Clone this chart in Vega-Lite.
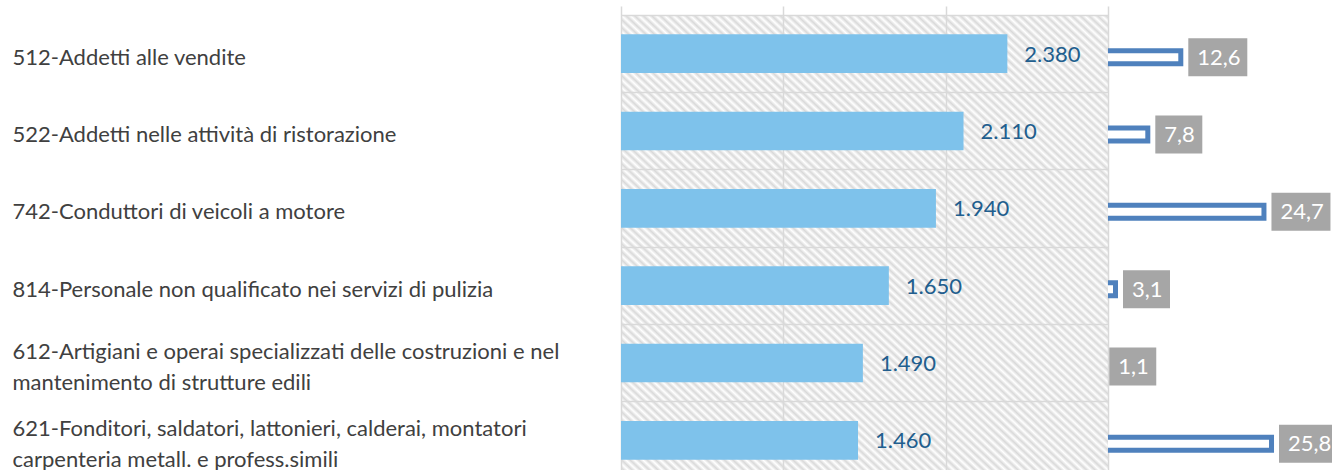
{
  "$schema": "https://vega.github.io/schema/vega-lite/v6.json",
  "padding": {"left": 12, "top": 15, "right": 0, "bottom": 0},
  "background": "white",
  "spacing": 0,
  "config": {
    "font": "Lato",
    "view": {"stroke": null},
    "locale": {"number": {"decimal": ",", "thousands": ".", "grouping": [3], "currency": ["€", ""]}},
    "axis": {"domain": false, "ticks": false, "tickSize": 0, "title": null}
  },
  "datasets": {
    "dati": [
      {"professione": "512-Addetti alle vendite", "occupati": 2380, "variazione": 12.6},
      {"professione": "522-Addetti nelle attività di ristorazione", "occupati": 2110, "variazione": 7.8},
      {"professione": "742-Conduttori di veicoli a motore", "occupati": 1940, "variazione": 24.7},
      {"professione": "814-Personale non qualificato nei servizi di pulizia", "occupati": 1650, "variazione": 3.1},
      {"professione": "612-Artigiani e operai specializzati delle costruzioni e nel\nmantenimento di strutture edili", "occupati": 1490, "variazione": 1.1},
      {"professione": "621-Fonditori, saldatori, lattonieri, calderai, montatori\ncarpenteria metall. e profess.simili", "occupati": 1460, "variazione": 25.8}
    ]
  },
  "data": {"name": "dati"},
  "hconcat": [
    {
      "width": 487,
      "height": 455,
      "view": {
        "stroke": null,
        "fill": {
          "gradient": "linear", "x1": 0, "y1": 1.1, "x2": 1.1, "y2": 0,
          "stops": [
            {"offset": 0.04, "color": "#d9d9d9"}, {"offset": 0.044, "color": "#ffffff"}, {"offset": 0.048, "color": "#d9d9d9"}, {"offset": 0.052, "color": "#ffffff"}, {"offset": 0.056, "color": "#d9d9d9"}, {"offset": 0.06, "color": "#ffffff"}, {"offset": 0.064, "color": "#d9d9d9"}, {"offset": 0.068, "color": "#ffffff"}, {"offset": 0.072, "color": "#d9d9d9"}, {"offset": 0.076, "color": "#ffffff"},
            {"offset": 0.08, "color": "#d9d9d9"}, {"offset": 0.084, "color": "#ffffff"}, {"offset": 0.088, "color": "#d9d9d9"}, {"offset": 0.092, "color": "#ffffff"}, {"offset": 0.096, "color": "#d9d9d9"}, {"offset": 0.1, "color": "#ffffff"}, {"offset": 0.104, "color": "#d9d9d9"}, {"offset": 0.108, "color": "#ffffff"}, {"offset": 0.112, "color": "#d9d9d9"}, {"offset": 0.116, "color": "#ffffff"},
            {"offset": 0.12, "color": "#d9d9d9"}, {"offset": 0.124, "color": "#ffffff"}, {"offset": 0.128, "color": "#d9d9d9"}, {"offset": 0.132, "color": "#ffffff"}, {"offset": 0.136, "color": "#d9d9d9"}, {"offset": 0.14, "color": "#ffffff"}, {"offset": 0.144, "color": "#d9d9d9"}, {"offset": 0.148, "color": "#ffffff"}, {"offset": 0.152, "color": "#d9d9d9"}, {"offset": 0.156, "color": "#ffffff"},
            {"offset": 0.16, "color": "#d9d9d9"}, {"offset": 0.164, "color": "#ffffff"}, {"offset": 0.168, "color": "#d9d9d9"}, {"offset": 0.172, "color": "#ffffff"}, {"offset": 0.176, "color": "#d9d9d9"}, {"offset": 0.18, "color": "#ffffff"}, {"offset": 0.184, "color": "#d9d9d9"}, {"offset": 0.188, "color": "#ffffff"}, {"offset": 0.192, "color": "#d9d9d9"}, {"offset": 0.196, "color": "#ffffff"},
            {"offset": 0.2, "color": "#d9d9d9"}, {"offset": 0.204, "color": "#ffffff"}, {"offset": 0.208, "color": "#d9d9d9"}, {"offset": 0.212, "color": "#ffffff"}, {"offset": 0.216, "color": "#d9d9d9"}, {"offset": 0.22, "color": "#ffffff"}, {"offset": 0.224, "color": "#d9d9d9"}, {"offset": 0.228, "color": "#ffffff"}, {"offset": 0.232, "color": "#d9d9d9"}, {"offset": 0.236, "color": "#ffffff"},
            {"offset": 0.24, "color": "#d9d9d9"}, {"offset": 0.244, "color": "#ffffff"}, {"offset": 0.248, "color": "#d9d9d9"}, {"offset": 0.252, "color": "#ffffff"}, {"offset": 0.256, "color": "#d9d9d9"}, {"offset": 0.26, "color": "#ffffff"}, {"offset": 0.264, "color": "#d9d9d9"}, {"offset": 0.268, "color": "#ffffff"}, {"offset": 0.272, "color": "#d9d9d9"}, {"offset": 0.276, "color": "#ffffff"},
            {"offset": 0.28, "color": "#d9d9d9"}, {"offset": 0.284, "color": "#ffffff"}, {"offset": 0.288, "color": "#d9d9d9"}, {"offset": 0.292, "color": "#ffffff"}, {"offset": 0.296, "color": "#d9d9d9"}, {"offset": 0.3, "color": "#ffffff"}, {"offset": 0.304, "color": "#d9d9d9"}, {"offset": 0.308, "color": "#ffffff"}, {"offset": 0.312, "color": "#d9d9d9"}, {"offset": 0.316, "color": "#ffffff"},
            {"offset": 0.32, "color": "#d9d9d9"}, {"offset": 0.324, "color": "#ffffff"}, {"offset": 0.328, "color": "#d9d9d9"}, {"offset": 0.332, "color": "#ffffff"}, {"offset": 0.336, "color": "#d9d9d9"}, {"offset": 0.34, "color": "#ffffff"}, {"offset": 0.344, "color": "#d9d9d9"}, {"offset": 0.348, "color": "#ffffff"}, {"offset": 0.352, "color": "#d9d9d9"}, {"offset": 0.356, "color": "#ffffff"},
            {"offset": 0.36, "color": "#d9d9d9"}, {"offset": 0.364, "color": "#ffffff"}, {"offset": 0.368, "color": "#d9d9d9"}, {"offset": 0.372, "color": "#ffffff"}, {"offset": 0.376, "color": "#d9d9d9"}, {"offset": 0.38, "color": "#ffffff"}, {"offset": 0.384, "color": "#d9d9d9"}, {"offset": 0.388, "color": "#ffffff"}, {"offset": 0.392, "color": "#d9d9d9"}, {"offset": 0.396, "color": "#ffffff"},
            {"offset": 0.4, "color": "#d9d9d9"}, {"offset": 0.404, "color": "#ffffff"}, {"offset": 0.408, "color": "#d9d9d9"}, {"offset": 0.412, "color": "#ffffff"}, {"offset": 0.416, "color": "#d9d9d9"}, {"offset": 0.42, "color": "#ffffff"}, {"offset": 0.424, "color": "#d9d9d9"}, {"offset": 0.428, "color": "#ffffff"}, {"offset": 0.432, "color": "#d9d9d9"}, {"offset": 0.436, "color": "#ffffff"},
            {"offset": 0.44, "color": "#d9d9d9"}, {"offset": 0.444, "color": "#ffffff"}, {"offset": 0.448, "color": "#d9d9d9"}, {"offset": 0.452, "color": "#ffffff"}, {"offset": 0.456, "color": "#d9d9d9"}, {"offset": 0.46, "color": "#ffffff"}, {"offset": 0.464, "color": "#d9d9d9"}, {"offset": 0.468, "color": "#ffffff"}, {"offset": 0.472, "color": "#d9d9d9"}, {"offset": 0.476, "color": "#ffffff"},
            {"offset": 0.48, "color": "#d9d9d9"}, {"offset": 0.484, "color": "#ffffff"}, {"offset": 0.488, "color": "#d9d9d9"}, {"offset": 0.492, "color": "#ffffff"}, {"offset": 0.496, "color": "#d9d9d9"}, {"offset": 0.5, "color": "#ffffff"}, {"offset": 0.504, "color": "#d9d9d9"}, {"offset": 0.508, "color": "#ffffff"}, {"offset": 0.512, "color": "#d9d9d9"}, {"offset": 0.516, "color": "#ffffff"},
            {"offset": 0.52, "color": "#d9d9d9"}, {"offset": 0.524, "color": "#ffffff"}, {"offset": 0.528, "color": "#d9d9d9"}, {"offset": 0.532, "color": "#ffffff"}, {"offset": 0.536, "color": "#d9d9d9"}, {"offset": 0.54, "color": "#ffffff"}, {"offset": 0.544, "color": "#d9d9d9"}, {"offset": 0.548, "color": "#ffffff"}, {"offset": 0.552, "color": "#d9d9d9"}, {"offset": 0.556, "color": "#ffffff"},
            {"offset": 0.56, "color": "#d9d9d9"}, {"offset": 0.564, "color": "#ffffff"}, {"offset": 0.568, "color": "#d9d9d9"}, {"offset": 0.572, "color": "#ffffff"}, {"offset": 0.576, "color": "#d9d9d9"}, {"offset": 0.58, "color": "#ffffff"}, {"offset": 0.584, "color": "#d9d9d9"}, {"offset": 0.588, "color": "#ffffff"}, {"offset": 0.592, "color": "#d9d9d9"}, {"offset": 0.596, "color": "#ffffff"},
            {"offset": 0.6, "color": "#d9d9d9"}, {"offset": 0.604, "color": "#ffffff"}, {"offset": 0.608, "color": "#d9d9d9"}, {"offset": 0.612, "color": "#ffffff"}, {"offset": 0.616, "color": "#d9d9d9"}, {"offset": 0.62, "color": "#ffffff"}, {"offset": 0.624, "color": "#d9d9d9"}, {"offset": 0.628, "color": "#ffffff"}, {"offset": 0.632, "color": "#d9d9d9"}, {"offset": 0.636, "color": "#ffffff"},
            {"offset": 0.64, "color": "#d9d9d9"}, {"offset": 0.644, "color": "#ffffff"}, {"offset": 0.648, "color": "#d9d9d9"}, {"offset": 0.652, "color": "#ffffff"}, {"offset": 0.656, "color": "#d9d9d9"}, {"offset": 0.66, "color": "#ffffff"}, {"offset": 0.664, "color": "#d9d9d9"}, {"offset": 0.668, "color": "#ffffff"}, {"offset": 0.672, "color": "#d9d9d9"}, {"offset": 0.676, "color": "#ffffff"},
            {"offset": 0.68, "color": "#d9d9d9"}, {"offset": 0.684, "color": "#ffffff"}, {"offset": 0.688, "color": "#d9d9d9"}, {"offset": 0.692, "color": "#ffffff"}, {"offset": 0.696, "color": "#d9d9d9"}, {"offset": 0.7, "color": "#ffffff"}, {"offset": 0.704, "color": "#d9d9d9"}, {"offset": 0.708, "color": "#ffffff"}, {"offset": 0.712, "color": "#d9d9d9"}, {"offset": 0.716, "color": "#ffffff"},
            {"offset": 0.72, "color": "#d9d9d9"}, {"offset": 0.724, "color": "#ffffff"}, {"offset": 0.728, "color": "#d9d9d9"}, {"offset": 0.732, "color": "#ffffff"}, {"offset": 0.736, "color": "#d9d9d9"}, {"offset": 0.74, "color": "#ffffff"}, {"offset": 0.744, "color": "#d9d9d9"}, {"offset": 0.748, "color": "#ffffff"}, {"offset": 0.752, "color": "#d9d9d9"}, {"offset": 0.756, "color": "#ffffff"},
            {"offset": 0.76, "color": "#d9d9d9"}, {"offset": 0.764, "color": "#ffffff"}, {"offset": 0.768, "color": "#d9d9d9"}, {"offset": 0.772, "color": "#ffffff"}, {"offset": 0.776, "color": "#d9d9d9"}, {"offset": 0.78, "color": "#ffffff"}, {"offset": 0.784, "color": "#d9d9d9"}, {"offset": 0.788, "color": "#ffffff"}, {"offset": 0.792, "color": "#d9d9d9"}, {"offset": 0.796, "color": "#ffffff"},
            {"offset": 0.8, "color": "#d9d9d9"}, {"offset": 0.804, "color": "#ffffff"}, {"offset": 0.808, "color": "#d9d9d9"}, {"offset": 0.812, "color": "#ffffff"}, {"offset": 0.816, "color": "#d9d9d9"}, {"offset": 0.82, "color": "#ffffff"}, {"offset": 0.824, "color": "#d9d9d9"}, {"offset": 0.828, "color": "#ffffff"}, {"offset": 0.832, "color": "#d9d9d9"}, {"offset": 0.836, "color": "#ffffff"},
            {"offset": 0.84, "color": "#d9d9d9"}, {"offset": 0.844, "color": "#ffffff"}, {"offset": 0.848, "color": "#d9d9d9"}, {"offset": 0.852, "color": "#ffffff"}, {"offset": 0.856, "color": "#d9d9d9"}, {"offset": 0.86, "color": "#ffffff"}, {"offset": 0.864, "color": "#d9d9d9"}, {"offset": 0.868, "color": "#ffffff"}, {"offset": 0.872, "color": "#d9d9d9"}, {"offset": 0.876, "color": "#ffffff"},
            {"offset": 0.88, "color": "#d9d9d9"}, {"offset": 0.884, "color": "#ffffff"}, {"offset": 0.888, "color": "#d9d9d9"}, {"offset": 0.892, "color": "#ffffff"}, {"offset": 0.896, "color": "#d9d9d9"}, {"offset": 0.9, "color": "#ffffff"}, {"offset": 0.904, "color": "#d9d9d9"}, {"offset": 0.908, "color": "#ffffff"}, {"offset": 0.912, "color": "#d9d9d9"}, {"offset": 0.916, "color": "#ffffff"},
            {"offset": 0.92, "color": "#d9d9d9"}, {"offset": 0.924, "color": "#ffffff"}, {"offset": 0.928, "color": "#d9d9d9"}, {"offset": 0.932, "color": "#ffffff"}, {"offset": 0.936, "color": "#d9d9d9"}, {"offset": 0.94, "color": "#ffffff"}, {"offset": 0.944, "color": "#d9d9d9"}, {"offset": 0.948, "color": "#ffffff"}, {"offset": 0.952, "color": "#d9d9d9"}, {"offset": 0.956, "color": "#ffffff"},
            {"offset": 0.96, "color": "#d9d9d9"}
          ]
        }
      },
      "encoding": {
        "y": {
          "field": "professione", "type": "nominal", "sort": null,
          "scale": {"range": [0, 464], "paddingInner": 0, "paddingOuter": 0},
          "axis": {
            "title": null, "labelAlign": "left", "labelPadding": 609, "labelBaseline": "middle",
            "labelOffset": {"condition": {"test": "indexof(datum.value, '\\n') >= 0", "value": -11.5}, "value": 4},
            "labelLineHeight": 31, "labelFontSize": 22, "labelColor": "#404040",
            "labelLimit": 600, "labelExpr": "split(datum.value, '\\n')",
            "grid": true, "gridColor": "#D9D9D9", "gridWidth": 1.5, "bandPosition": 0, "tickExtra": false
          }
        }
      },
      "layer": [
        {
          "mark": {"type": "bar", "color": "#7EC2EB", "height": {"band": 0.5}},
          "encoding": {
            "x": {
              "field": "occupati", "type": "quantitative",
              "scale": {"domain": [0, 3000]},
              "axis": {"values": [0, 1000, 2000, 3000], "labels": false, "grid": true, "gridColor": "#D9D9D9", "gridWidth": 1.5, "title": null}
            }
          }
        },
        {
          "mark": {"type": "text", "align": "left", "baseline": "middle", "dx": 17, "dy": 1, "fontSize": 22, "color": "#215E8E"},
          "encoding": {
            "x": {"field": "occupati", "type": "quantitative"},
            "text": {"field": "occupati", "type": "quantitative", "format": ",.0f"}
          }
        }
      ]
    },
    {
      "width": 224,
      "height": 455,
      "encoding": {
        "y": {
          "field": "professione", "type": "nominal", "sort": null,
          "scale": {"range": [0, 464], "paddingInner": 0, "paddingOuter": 0},
          "axis": null
        },
        "x": {
          "field": "variazione", "type": "quantitative",
          "scale": {"domain": [0, 34.6], "range": [-13.8, 224]},
          "axis": null
        }
      },
      "layer": [
        {
          "mark": {"type": "bar", "fill": "white", "stroke": "#4F81BD", "strokeWidth": 5, "height": 13, "yOffset": 3.5, "clip": true}
        },
        {
          "mark": {"type": "point", "filled": true, "color": "#A6A6A6", "opacity": 1, "size": 1600, "yOffset": 3.5, "strokeWidth": 0, "clip": true},
          "encoding": {
            "shape": {
              "condition": {"test": "datum.variazione >= 10", "value": "M0.375,-0.95H3.325V0.95H0.375Z"},
              "value": "M0.375,-0.95H2.725V0.95H0.375Z"
            }
          }
        },
        {
          "mark": {"type": "text", "align": "left", "baseline": "middle", "dx": 16.5, "yOffset": 4, "fontSize": 22, "color": "white", "clip": true},
          "encoding": {
            "text": {"field": "variazione", "type": "quantitative", "format": ".1f"}
          }
        }
      ]
    }
  ]
}
